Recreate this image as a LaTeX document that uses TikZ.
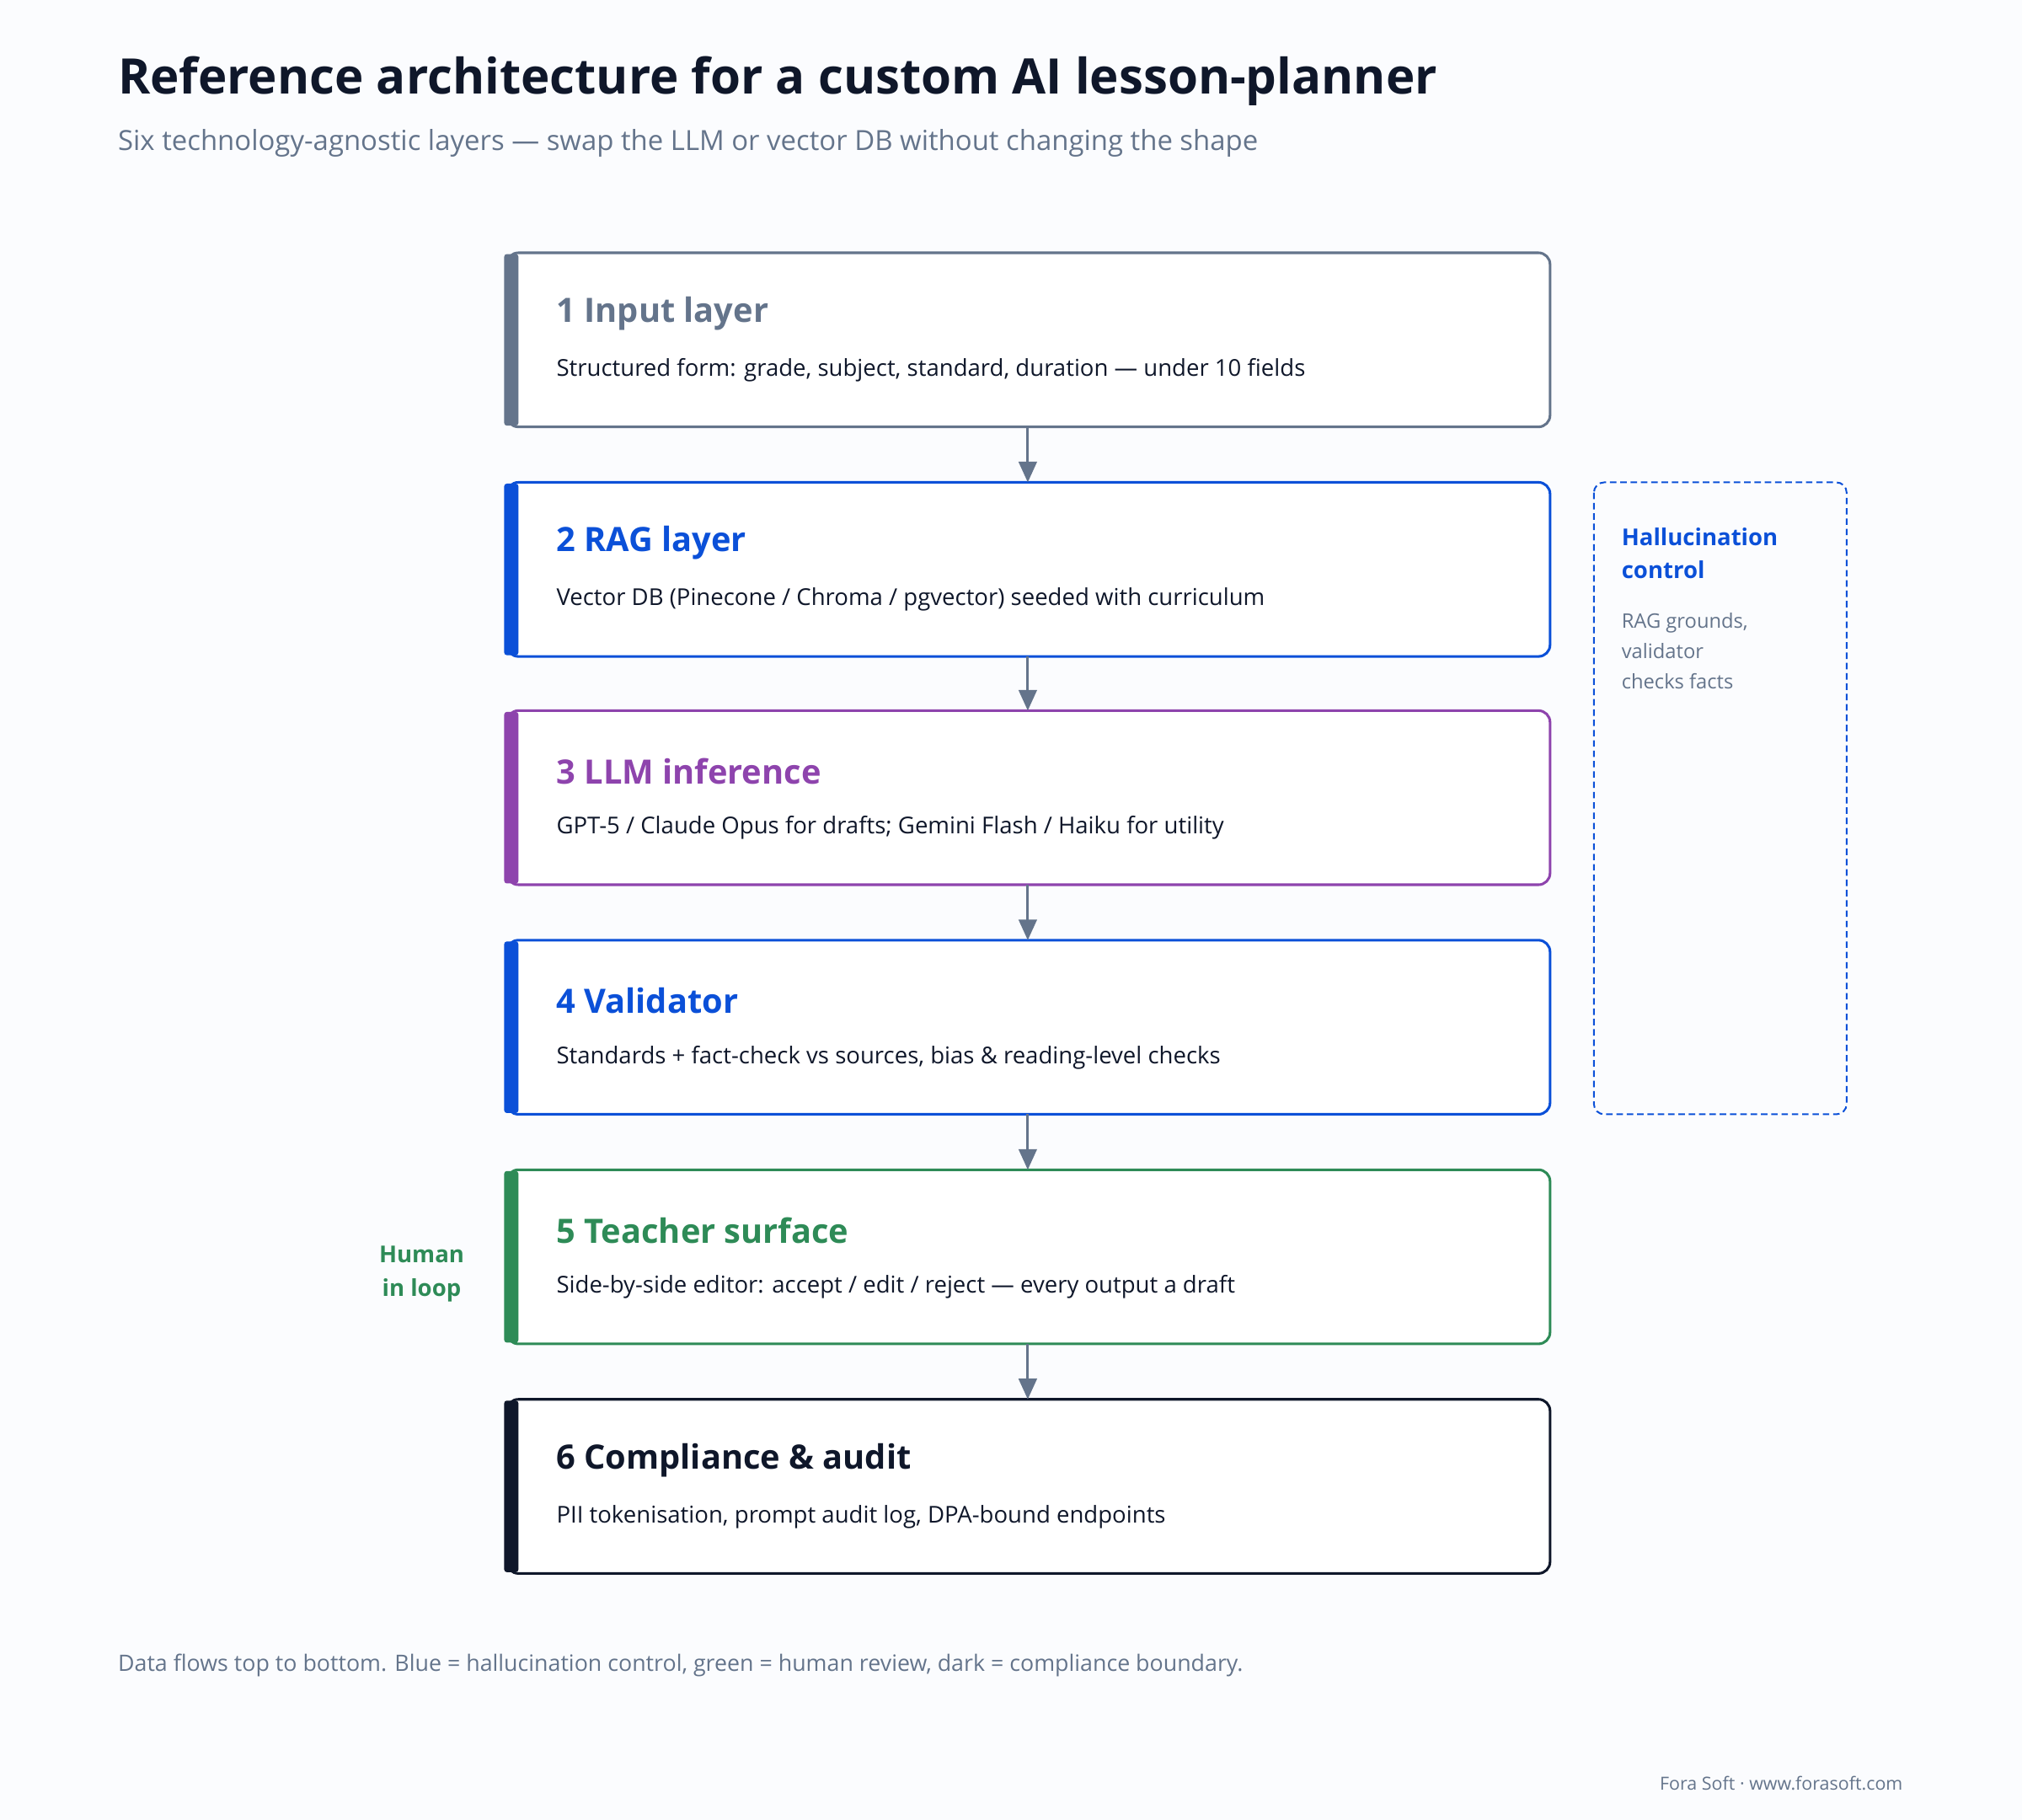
\documentclass[tikz,border=0pt]{standalone}
\usepackage{fontspec}
\setmainfont{Open Sans}
\usetikzlibrary{arrows.meta}
\begin{document}
\definecolor{bg}{HTML}{FBFCFE}
\definecolor{slate}{HTML}{64748B}
\definecolor{ink}{HTML}{0F172A}
\definecolor{blu}{HTML}{0B50D8}
\definecolor{pur}{HTML}{8E44AD}
\definecolor{grn}{HTML}{2E8B57}
\begin{tikzpicture}[x=1pt,y=-1pt,
 lay/.style={draw=#1,line width=2pt,rounded corners=9pt,fill=white},
 bar/.style={fill=#1,rounded corners=2pt},
 ttl/.style={anchor=west,font=\fontsize{26}{30}\selectfont\bfseries,text=#1},
 bdy/.style={anchor=west,font=\fontsize{18}{22}\selectfont,text=ink},
 arr/.style={draw=slate,line width=2pt,-{Triangle[length=16pt,width=14pt]}}]
\fill[bg] (0,0) rectangle (1568,1411);
\useasboundingbox (0,0) rectangle (1568,1411);
\node[anchor=west,font=\fontsize{38}{44}\selectfont\bfseries,text=ink] (title) at (88,63) {Reference architecture for a custom AI lesson-planner};
\node[anchor=west,font=\fontsize{21.5}{24}\selectfont,text=slate] (sub) at (88,111) {Six technology-agnostic layers — swap the LLM or vector DB without changing the shape};
\foreach \i/\y/\c/\t/\b in {
 1/196/slate/1 Input layer/{Structured form: grade, subject, standard, duration — under 10 fields},
 2/374/blu/2 RAG layer/{Vector DB (Pinecone / Chroma / pgvector) seeded with curriculum},
 3/551/pur/3 LLM inference/{GPT-5 / Claude Opus for drafts; Gemini Flash / Haiku for utility},
 4/729/blu/4 Validator/{Standards + fact-check vs sources, bias \& reading-level checks},
 5/907/grn/5 Teacher surface/{Side-by-side editor: accept / edit / reject — every output a draft},
 6/1085/ink/6 Compliance \& audit/{PII tokenisation, prompt audit log, DPA-bound endpoints}}{
 \draw[lay=\c] (393,\y) rectangle (1202,\y+135);
 \coordinate (t\i) at (797,\y);
 \coordinate (b\i) at (797,\y+135);
 \fill[bar=\c] (391,\y+1) rectangle (402,\y+134);
 \node[ttl=\c] (h\i) at (428,\y+47) {\t};
 \node[bdy] (d\i) at (428,\y+91) {\b};
}
\foreach \a/\b in {1/2,2/3,3/4,4/5,5/6}{\draw[arr] (b\a) -- (t\b);}
\draw[blu,line width=1.3pt,dash pattern=on 5pt off 3pt,rounded corners=8pt] (1236,374) rectangle (1432,864);
\node[anchor=north west,align=left,font=\fontsize{18}{25}\selectfont\bfseries,text=blu] (hc) at (1254,406) {Hallucination\\control};
\node[anchor=north west,align=left,font=\fontsize{15.5}{23.5}\selectfont,text=slate] (hct) at (1254,472) {RAG grounds,\\validator\\checks facts};
\node[align=center,font=\fontsize{18}{26}\selectfont\bfseries,text=grn] (hil) at (327,988) {Human\\in loop};
\node[anchor=west,font=\fontsize{17.5}{20}\selectfont,text=slate] (foot) at (88,1291) {Data flows top to bottom. Blue = hallucination control, green = human review, dark = compliance boundary.};
\node[anchor=east,font=\fontsize{14}{17}\selectfont,text=slate] (fs) at (1479,1383) {Fora Soft · www.forasoft.com};
\end{tikzpicture}
\end{document}
